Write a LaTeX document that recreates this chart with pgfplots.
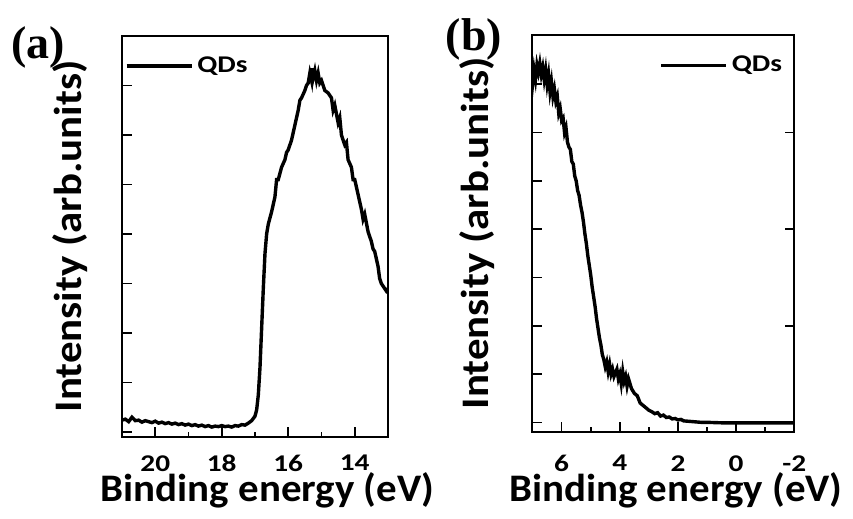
\documentclass[border=0pt]{standalone}
\usepackage{fontspec}
\setmainfont{Carlito}
\newfontfamily\widefont{Carlito}[FakeStretch=1.22]
\newfontfamily\ylabfont{Carlito}[FakeStretch=1.1]
\newfontfamily\xlabfont{Carlito}[FakeStretch=1.05]
\newfontfamily\serifbf{Liberation Serif}
\usepackage{pgfplots}
\pgfplotsset{compat=1.18}

% common look of both spectra panels
\pgfplotsset{
  xps/.style={
    scale only axis,
    x dir=reverse,
    axis line style={line width=0.9pt},
    every tick/.style={black, line width=0.8pt},
    tick align=inside,
    major tick length=5pt,
    minor tick length=2.5pt,
    xtick pos=bottom,
    ytick pos=left,
    yticklabels={},
    ymin=0,
    ticklabel style={font=\widefont\bfseries\fontsize{12}{12}\selectfont, inner sep=0pt},
    xlabel style={font=\xlabfont\bfseries\fontsize{19.5}{19.5}\selectfont, inner sep=0pt},
    ylabel style={font=\ylabfont\bfseries\fontsize{19.5}{19.5}\selectfont},
    legend style={draw=none, fill=none, inner sep=0pt,
      font=\widefont\bfseries\fontsize{12}{12}\selectfont},
    legend image code/.code={\draw[black, line width=1.6pt] (0pt,0pt) -- (32.5pt,0pt);},
  },
}

\begin{document}
\begin{tikzpicture}
\path[use as bounding box] (0,0) rectangle (426.5pt,259.5pt);

% (a) secondary electron cutoff
\begin{axis}[xps,
  at={(61pt,41pt)}, anchor=south west,
  width=133pt, height=200.5pt,
  xmin=13, xmax=21, ymax=8.1,
  xtick={14,16,18,20}, xticklabels={14,16,18,20},
  minor xtick={13,15,17,19,21},
  ytick={0.1,1.1,2.1,3.1,4.1,5.1,6.1,7.1},
  xticklabel style={yshift=-9pt},
  xlabel={Binding energy (eV)},
  ylabel={Intensity (arb.units)},
  xlabel style={at={(axis description cs:0.547,0)}, anchor=base, yshift=-32.4pt},
  ylabel style={at={(axis description cs:-0.1955,0.5)}, anchor=center},
  legend style={at={(axis description cs:0.01,0.925)}, anchor=west},
]
\addplot[black, line width=1.7pt] coordinates {
 (21.0,0.34) (20.9,0.36) (20.8,0.31) (20.7,0.40) (20.6,0.33) (20.5,0.34)
 (20.4,0.30) (20.3,0.33) (20.2,0.31) (20.1,0.29) (20.0,0.32) (19.9,0.28)
 (19.8,0.30) (19.7,0.27) (19.6,0.29) (19.5,0.26) (19.4,0.28) (19.3,0.25)
 (19.2,0.27) (19.1,0.24) (19.0,0.26) (18.9,0.23) (18.8,0.25) (18.7,0.22)
 (18.6,0.24) (18.5,0.21) (18.4,0.23) (18.3,0.20) (18.2,0.22) (18.1,0.21)
 (18.0,0.23) (17.9,0.21) (17.8,0.22) (17.7,0.20) (17.6,0.23) (17.5,0.22)
 (17.4,0.25) (17.3,0.24) (17.2,0.28) (17.1,0.33) (17.0,0.42) (16.95,0.55)
 (16.9,0.85) (16.85,1.4) (16.8,2.2) (16.75,3.0) (16.7,3.7) (16.65,4.1)
 (16.6,4.3) (16.5,4.55) (16.4,4.85) (16.35,5.2) (16.3,5.2) (16.2,5.45)
 (16.1,5.6) (16.05,5.75) (16.0,5.8) (15.9,6.0) (15.8,6.3) (15.7,6.6)
 (15.65,6.8) (15.6,6.85) (15.5,7.0) (15.45,7.1) (15.4,7.15) (15.35,7.35)
 (15.3,7.2) (15.28,7.45) (15.25,7.25) (15.2,7.4) (15.15,7.2) (15.1,7.35)
 (15.05,7.15) (15.0,7.2) (14.9,7.0) (14.8,6.95) (14.7,6.85) (14.65,6.6)
 (14.6,6.7) (14.5,6.35) (14.45,6.45) (14.4,6.1) (14.3,5.9) (14.25,5.95)
 (14.2,5.6) (14.1,5.45) (14.05,5.2) (14.0,5.2) (13.9,4.9) (13.8,4.6)
 (13.75,4.4) (13.7,4.5) (13.6,4.15) (13.5,3.95) (13.45,3.8) (13.4,3.75)
 (13.3,3.45) (13.25,3.2) (13.2,3.1) (13.1,3.0) (13.05,2.95) (13.0,3.0)
};
\addlegendentry{QDs}
\end{axis}

% (b) valence band edge
\begin{axis}[xps,
  at={(265.85pt,43.5pt)}, anchor=south west,
  width=131.3pt, height=198.5pt,
  xmin=-2, xmax=7.03, ymax=8.22,
  xtick={-2,0,2,4,6}, xticklabels={-2,0,2,4,6},
  minor xtick={-1,1,3,5,7},
  ytick={0.2,1.2,2.2,3.2,4.2,5.2,6.2,7.2},
  xticklabel style={yshift=-11.5pt},
  xlabel={Binding energy (eV)},
  ylabel={Intensity (arb.units)},
  xlabel style={at={(axis description cs:0.549,0)}, anchor=base, yshift=-34.9pt},
  ylabel style={at={(axis description cs:-0.2083,0.5)}, anchor=center},
  legend style={at={(axis description cs:0.97,0.924)}, anchor=east},
]
\addplot[black, line width=1.7pt] coordinates {
 (7.03,7.36) (7.0,7.2) (6.95,7.5) (6.9,7.3) (6.85,7.6) (6.8,7.45)
 (6.75,7.63) (6.7,7.4) (6.65,7.55) (6.6,7.3) (6.55,7.5) (6.5,7.2)
 (6.45,7.4) (6.4,7.05) (6.35,7.25) (6.3,6.95) (6.25,7.1) (6.2,6.85)
 (6.15,6.95) (6.1,6.6) (6.05,6.7) (6.0,6.45) (5.95,6.5) (5.9,6.2)
 (5.85,6.3) (5.8,6.0) (5.75,5.9) (5.7,5.85) (5.65,5.6) (5.6,5.55)
 (5.55,5.3) (5.5,5.2) (5.45,5.0) (5.4,4.9) (5.35,4.7) (5.3,4.55)
 (5.25,4.35) (5.2,4.1) (5.15,3.9) (5.1,3.65) (5.05,3.45) (5.0,3.25)
 (4.95,3.0) (4.9,2.8) (4.85,2.6) (4.8,2.35) (4.75,2.15) (4.7,1.95)
 (4.65,1.8) (4.6,1.6) (4.55,1.5) (4.5,1.35) (4.45,1.45) (4.4,1.25)
 (4.35,1.4) (4.3,1.2) (4.25,1.3) (4.2,1.15) (4.1,1.3) (4.05,1.1)
 (4.0,1.2) (3.95,1.0) (3.9,1.25) (3.85,1.05) (3.8,1.15) (3.75,0.95)
 (3.7,1.1) (3.6,0.9) (3.5,0.8) (3.4,0.75) (3.3,0.6) (3.2,0.55)
 (3.1,0.5) (3.0,0.45) (2.9,0.42) (2.8,0.38) (2.7,0.4) (2.6,0.33)
 (2.5,0.35) (2.4,0.3) (2.3,0.31) (2.2,0.27) (2.1,0.28) (2.0,0.25)
 (1.9,0.26) (1.8,0.23) (1.6,0.22) (1.4,0.21) (1.2,0.2) (1.0,0.2)
 (0.5,0.19) (0.0,0.19) (-1.0,0.19) (-2.0,0.19)
};
\addlegendentry{QDs}
\end{axis}

% right-hand ticks of panel (b)
\begin{axis}[
  scale only axis,
  at={(265.85pt,43.5pt)}, anchor=south west,
  width=131.3pt, height=198.5pt,
  x dir=reverse, xmin=-2, xmax=7.03, ymin=0, ymax=8.22,
  hide x axis,
  axis y line*=right,
  axis line style={line width=0.9pt},
  every tick/.style={black, line width=0.8pt},
  tick align=inside, major tick length=4.5pt,
  ytick={0.2,2.2,4.2,6.2}, yticklabels={},
]
\end{axis}

\node[font=\serifbf\bfseries\fontsize{23}{23}\selectfont] at (19.25pt,235.75pt) {(a)};
\node[font=\serifbf\bfseries\fontsize{23}{23}\selectfont] at (237pt,240pt) {(b)};
\end{tikzpicture}
\end{document}
